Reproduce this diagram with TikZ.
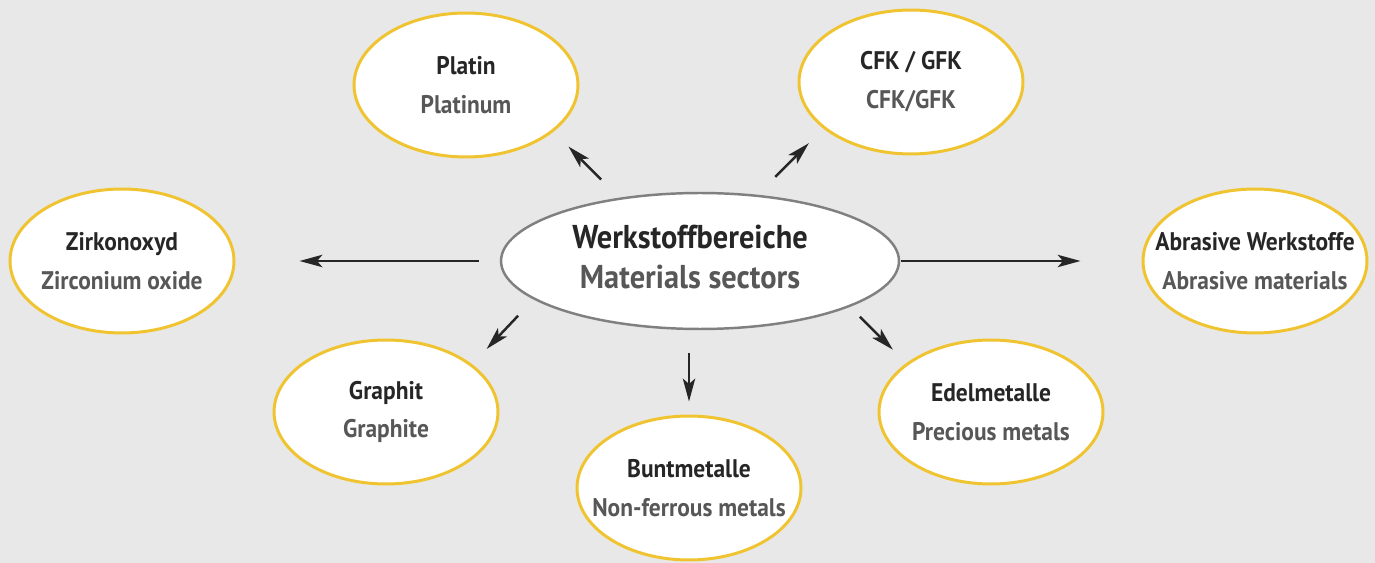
\documentclass[tikz,border=0pt]{standalone}
\usepackage{fontspec}
\setmainfont{PT Sans}[FakeStretch=0.92]
\usepackage{tikz}
\definecolor{paper}{RGB}{232,232,232}
\definecolor{gold}{RGB}{240,196,48}
\definecolor{hubline}{RGB}{128,128,128}
\definecolor{darktext}{RGB}{38,38,38}
\definecolor{subgray}{RGB}{87,87,87}
\usetikzlibrary{shapes.geometric,arrows.meta}
\tikzset{%
  bubble/.style={draw=gold, line width=1.7pt, fill=white, ellipse,
    minimum width=4.48cm, minimum height=2.88cm, inner sep=0pt},% material ellipse
  hub/.style={bubble, draw=hubline, line width=1.4pt,
    minimum width=7.96cm, minimum height=2.72cm},% central ellipse
  caption/.style={align=center, text=darktext,
    font=\fontsize{14.5}{22}\selectfont\bfseries},% two line label
  bigcaption/.style={caption, font=\fontsize{18.8}{23}\selectfont\bfseries},% label of hub
  feed/.style={line width=1.4pt, darktext,
    -{Stealth[length=13pt,width=7pt,inset=3pt]}}% arrow out of the hub
}
\newcommand*{\sector}[2]{#1\\\textcolor{subgray}{#2}}
\begin{document}
\begin{tikzpicture}[x=0.02cm, y=-0.02cm]
\fill[paper] (0,0) rectangle (1375,563);
\useasboundingbox (0,0) rectangle (1375,563);

\node[hub] (hub) at (700,261) {};
\node[bigcaption] (hub-t) at ([shift={(-10,-4)}]hub) {\sector{Werkstoffbereiche}{Materials sectors}};

\node[bubble] (platin) at (466,85) {};
\node[bubble] (cfk) at (911,82) {};
\node[bubble] (zirk) at (122,261) {};
\node[bubble] (abras) at (1255,261) {};
\node[bubble] (graph) at (386,412) {};
\node[bubble] (bunt) at (689,488) {};
\node[bubble] (edel) at (991,412) {};

\node[caption] (platin-t) at (platin) {\sector{Platin}{Platinum}};
\node[caption] (cfk-t) at (cfk) {\sector{CFK / GFK}{CFK/GFK}};
\node[caption] (zirk-t) at (zirk) {\sector{Zirkonoxyd}{Zirconium oxide}};
\node[caption] (abras-t) at (abras) {\sector{Abrasive Werkstoffe}{Abrasive materials}};
\node[caption] (graph-t) at (graph) {\sector{Graphit}{Graphite}};
\node[caption] (bunt-t) at (bunt) {\sector{Buntmetalle}{Non-ferrous metals}};
\node[caption] (edel-t) at (edel) {\sector{Edelmetalle}{Precious metals}};

\draw[feed, shorten <=0.51cm, shorten >=0.42cm] (hub.142) -- (platin.-28);
\draw[feed, shorten <=0.5cm, shorten >=0.41cm] (hub.49) -- (cfk.208);
\draw[feed, shorten <=0.42cm, shorten >=1.28cm] (hub.180) -- (zirk.0);
\draw[feed, shorten <=0.02cm, shorten >=1.22cm] (hub.0) -- (abras.180);
\draw[feed, shorten <=0.45cm, shorten >=0.42cm] (hub.193) -- (graph.29);
\draw[feed, shorten <=0.46cm, shorten >=0.26cm] (hub.south -| bunt) -- (bunt);
\draw[feed, shorten <=0.28cm, shorten >=0.38cm] (hub.-17) -- (edel.150);
\end{tikzpicture}
\end{document}
